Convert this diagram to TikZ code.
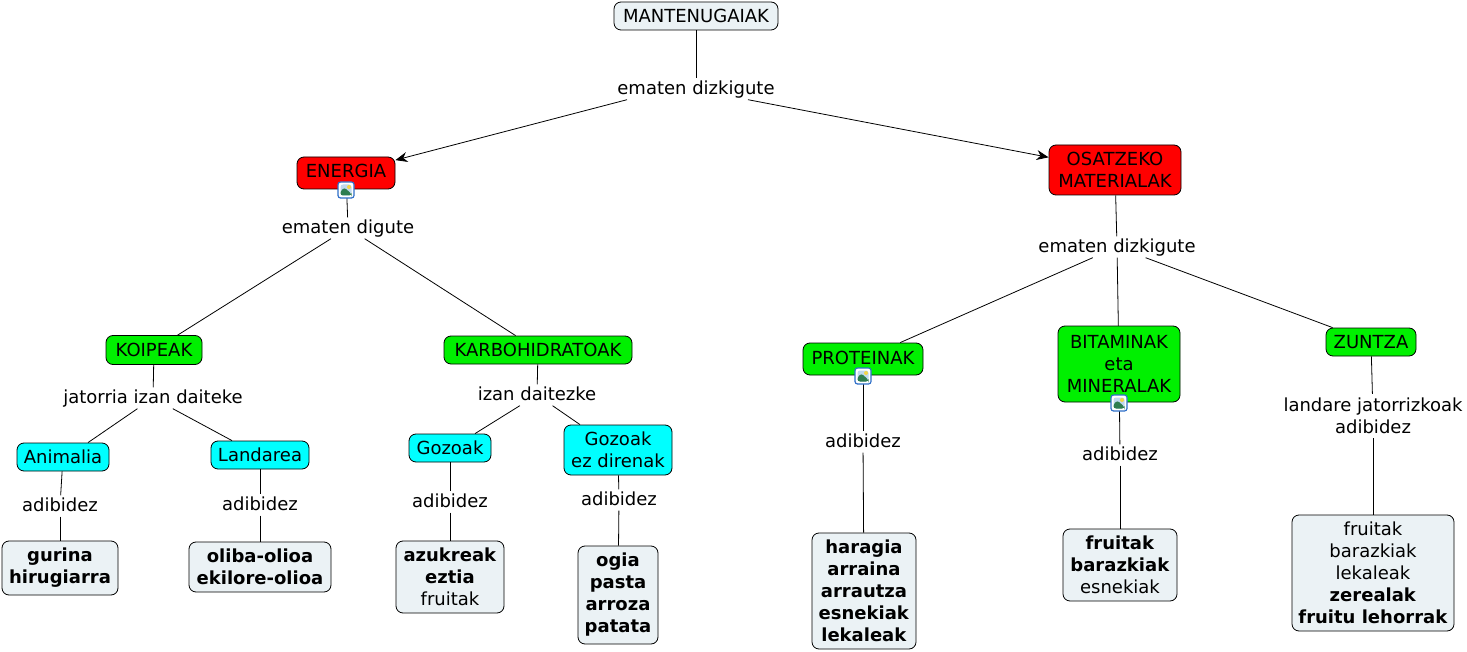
\documentclass[tikz,border=0pt]{standalone}
\usepackage{fontspec}
\setmainfont{DejaVu Sans}
\usetikzlibrary{arrows.meta}

\begin{document}
\begin{tikzpicture}[
    x=1pt, y=-1pt,
    every node/.style={font=\fontsize{18}{22}\selectfont, align=center, inner sep=0pt},
    box/.style={rectangle, draw=black, rounded corners=7pt, line width=0.8pt},
    plainbox/.style={box, fill=boxgrey},
    redbox/.style={box, fill=red},
    greenbox/.style={box, fill=conceptgreen},
    cyanbox/.style={box, fill=conceptcyan},
    linkword/.style={minimum height=21pt, text height=13pt, text depth=2.5pt},
    link/.style={draw=black, line width=0.8pt},
    arrowlink/.style={link, ->, >={Stealth[length=12pt, width=10pt]}},
    imgicon/.style={rectangle, draw=iconblue, fill=white, rounded corners=2.5pt, line width=1.2pt, minimum size=16pt,
        path picture={
            \begin{scope}[shift={(path picture bounding box.center)}]
                \fill[iconsky] (-5.5pt,-5.5pt) rectangle (5.5pt,5.5pt);
                \fill[iconsun] (3pt,3pt) circle (2pt);
                \fill[icongreen] (-5.5pt,-5.5pt) -- (-5.5pt,-1pt) -- (-1.5pt,2.5pt) -- (5.5pt,-4pt) -- (5.5pt,-5.5pt) -- cycle;
            \end{scope}
        }}
    ]
        \definecolor{boxgrey}{HTML}{EBF2F5}
        \definecolor{conceptgreen}{HTML}{00F000}
        \definecolor{conceptcyan}{HTML}{00FFFF}
        \definecolor{iconblue}{HTML}{2F6FC8}
        \definecolor{iconsky}{HTML}{BFD8EE}
        \definecolor{iconsun}{HTML}{F2D54A}
        \definecolor{icongreen}{HTML}{2E7D4F}
        \useasboundingbox (0,0) rectangle (1467,652);

        %Nodes
        \node[plainbox, minimum width=164pt, minimum height=28pt]
            (mant)      at (696,16)     {MANTENUGAIAK};
        \node[linkword] (linkTop)       at (696,89)     {ematen dizkigute};
        \node[redbox, minimum width=98pt, minimum height=32pt, text depth=4pt]
            (energia)   at (346,173)    {ENERGIA};
        \node[redbox, minimum width=132pt, minimum height=50pt]
            (osatzeko)  at (1115,170)   {OSATZEKO\\MATERIALAK};
        \node[linkword] (linkEnergia)   at (348,228)    {ematen digute};
        \node[linkword] (linkOsatzeko)  at (1117,247)   {ematen dizkigute};

        \node[greenbox, minimum width=96pt, minimum height=29pt]
            (koipeak)   at (154,350)    {KOIPEAK};
        \node[greenbox, minimum width=188pt, minimum height=28pt]
            (karbo)     at (538,350)    {KARBOHIDRATOAK};
        \node[greenbox, minimum width=120pt, minimum height=32pt, text depth=3pt]
            (proteinak) at (863,359)    {PROTEINAK};
        \node[greenbox, minimum width=122pt, minimum height=76pt]
            (bitaminak) at (1119,364)   {BITAMINAK\\eta\\MINERALAK};
        \node[greenbox, minimum width=90pt, minimum height=28pt]
            (zuntza)    at (1371,342)   {ZUNTZA};

        \node[linkword] (linkKoipeak)   at (153,398)    {jatorria izan daiteke};
        \node[linkword] (linkKarbo)     at (537,395)    {izan daitezke};
        \node[linkword] (linkProteinak) at (863,442)    {adibidez};
        \node[linkword] (linkBitaminak) at (1120,455)   {adibidez};
        \node[minimum height=44pt]
            (linkZuntza)    at (1373,416)   {landare jatorrizkoak\\adibidez};

        \node[cyanbox, minimum width=92pt, minimum height=28pt]
            (animalia)  at (63,457)     {Animalia};
        \node[cyanbox, minimum width=98pt, minimum height=28pt]
            (landarea)  at (260,455)    {Landarea};
        \node[cyanbox, minimum width=82pt, minimum height=28pt]
            (gozoak)    at (450,448)    {Gozoak};
        \node[cyanbox, minimum width=108pt, minimum height=50pt]
            (gozoakez)  at (618,450)    {Gozoak\\ez direnak};

        \node[linkword] (linkAnimalia)  at (60,506)     {adibidez};
        \node[linkword] (linkLandarea)  at (260,505)    {adibidez};
        \node[linkword] (linkGozoak)    at (450,502)    {adibidez};
        \node[linkword] (linkGozoakez)  at (619,500)    {adibidez};

        \node[plainbox, minimum width=116pt, minimum height=54pt]
            (gurina)    at (60,568)     {\textbf{gurina}\\\textbf{hirugiarra}};
        \node[plainbox, minimum width=142pt, minimum height=50pt]
            (oliba)     at (260,567)    {\textbf{oliba-olioa}\\\textbf{ekilore-olioa}};
        \node[plainbox, minimum width=108pt, minimum height=72pt]
            (azukreak)  at (450,577)    {\textbf{azukreak}\\\textbf{eztia}\\fruitak};
        \node[plainbox, minimum width=80pt, minimum height=98pt]
            (ogia)      at (618,595)    {\textbf{ogia}\\\textbf{pasta}\\\textbf{arroza}\\\textbf{patata}};
        \node[plainbox, minimum width=104pt, minimum height=116pt]
            (haragia)   at (864,591)    {\textbf{haragia}\\\textbf{arraina}\\\textbf{arrautza}\\\textbf{esnekiak}\\\textbf{lekaleak}};
        \node[plainbox, minimum width=114pt, minimum height=72pt]
            (fruitak)   at (1120,565)   {\textbf{fruitak}\\\textbf{barazkiak}\\esnekiak};
        \node[plainbox, minimum width=162pt, minimum height=116pt]
            (fruituak)  at (1373,573)   {fruitak\\barazkiak\\lekaleak\\\textbf{zerealak}\\\textbf{fruitu lehorrak}};

        %Lines
        \draw[link] (mant) -- (linkTop);
        \draw[arrowlink] ([xshift=-69pt]linkTop.south) -- (energia);
        \draw[arrowlink] ([xshift=52pt]linkTop.south) -- (osatzeko);

        \draw[link] (energia) -- (linkEnergia);
        \draw[link] (linkEnergia) -- (koipeak);
        \draw[link] (linkEnergia) -- (karbo);
        \draw[link] (osatzeko) -- (linkOsatzeko);
        \draw[link] (linkOsatzeko) -- (proteinak);
        \draw[link] (linkOsatzeko) -- (bitaminak);
        \draw[link] (linkOsatzeko) -- (zuntza);

        \draw[link] (koipeak) -- (linkKoipeak);
        \draw[link] (linkKoipeak) -- ([xshift=25pt]animalia.north);
        \draw[link] (linkKoipeak) -- ([xshift=-28pt]landarea.north);
        \draw[link] (karbo) -- (linkKarbo);
        \draw[link] (linkKarbo) -- ([xshift=25pt]gozoak.north);
        \draw[link] (linkKarbo) -- ([xshift=-38pt]gozoakez.north);
        \draw[link] (proteinak) -- (linkProteinak);
        \draw[link] (linkProteinak) -- (haragia);
        \draw[link] (bitaminak) -- (linkBitaminak);
        \draw[link] (linkBitaminak) -- (fruitak);
        \draw[link] (zuntza) -- (linkZuntza);
        \draw[link] (linkZuntza) -- (fruituak);

        \draw[link] (animalia) -- (linkAnimalia);
        \draw[link] (linkAnimalia) -- (gurina);
        \draw[link] (landarea) -- (linkLandarea);
        \draw[link] (linkLandarea) -- (oliba);
        \draw[link] (gozoak) -- (linkGozoak);
        \draw[link] (linkGozoak) -- (azukreak);
        \draw[link] (gozoakez) -- (linkGozoakez);
        \draw[link] (linkGozoakez) -- (ogia);

        %Icons
        \node[imgicon] (iconEnergia)   at (346,190)  {};
        \node[imgicon] (iconProteinak) at (863,376)  {};
        \node[imgicon] (iconBitaminak) at (1119,403) {};
    \end{tikzpicture}
\end{document}
